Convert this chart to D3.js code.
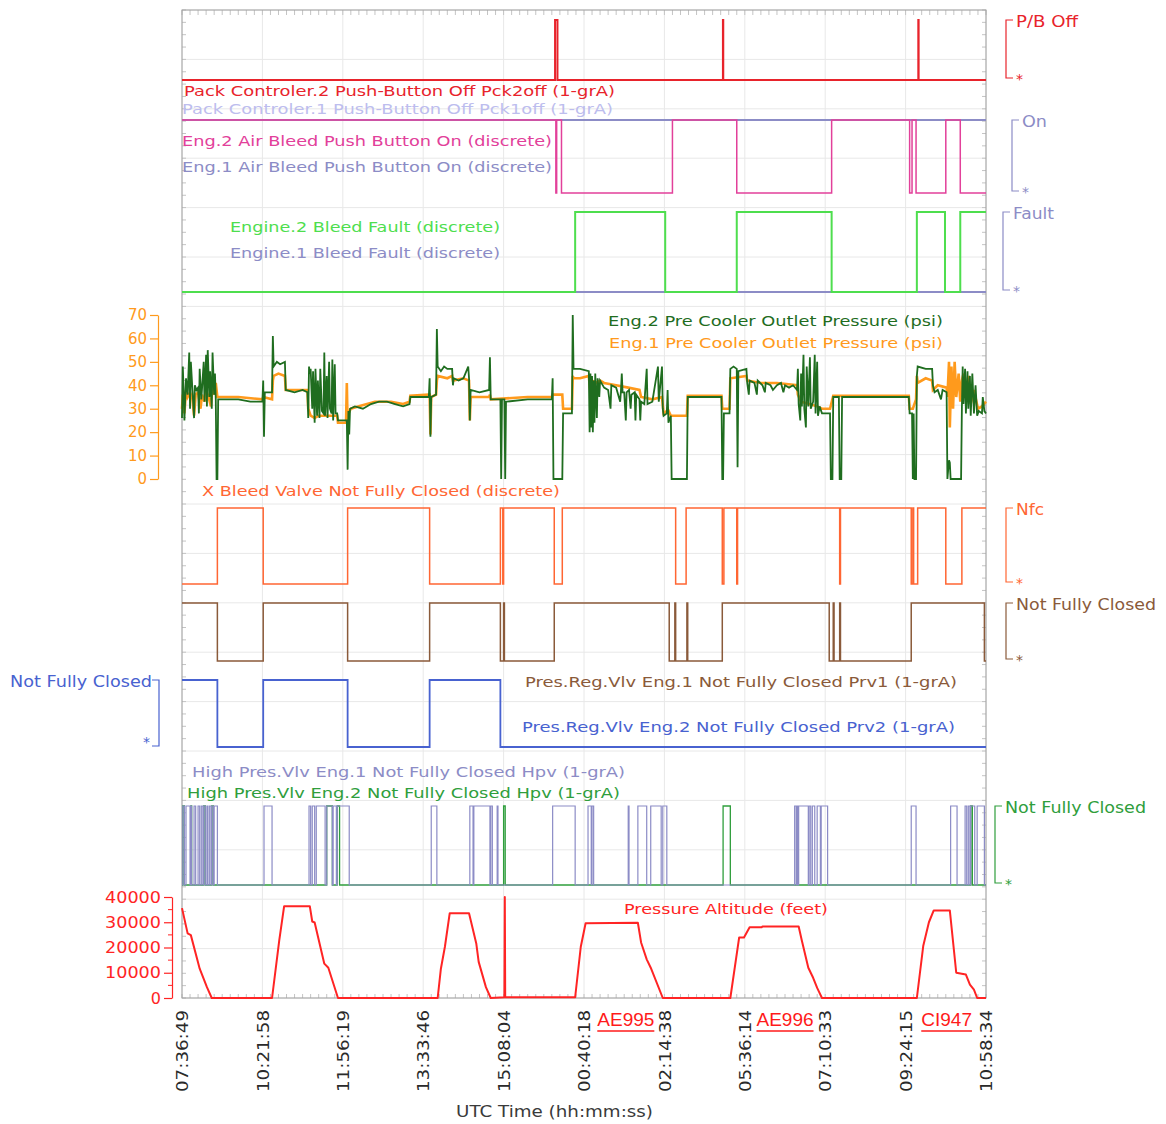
<!DOCTYPE html>
<html>
<head>
<meta charset="utf-8">
<title>Bleed air parameters</title>
<script src="https://cdn.jsdelivr.net/npm/d3@7"></script>
<style>
    body { margin: 0; background: #fff; overflow: hidden; }
    svg text { font-family: 'DejaVu Sans', Verdana, sans-serif; }
</style>
</head>
<body>
<svg id="chart" width="1166" height="1124"></svg>
<script>
// ---- data (x in sample index 0..1000, one tick every 100 samples) ----
var timeLabels = ["07:36:49", "10:21:58", "11:56:19", "13:33:46", "15:08:04", "00:40:18",
                  "02:14:38", "05:36:14", "07:10:33", "09:24:15", "10:58:34"];

// discrete signals: intervals where the signal is "high"
var pck2Off = [[464, 467], [672.8, 673.2], [915.8, 916.2]];
var pck1Off = [];
var airBleed1 = [[0, 1000]];
var airBleed2 = [[0, 465], [466, 472], [610, 690], [808, 905], [908, 913], [950, 968]];
var bleedFault1 = [];
var bleedFault2 = [[489, 601], [690, 808], [914, 949], [968, 1000]];
var xBleedNfc = [[44, 101], [206, 308], [396, 399], [400, 463], [473, 614], [627, 672], [674, 690],
                 [691, 818], [819, 907], [909, 910], [915, 950], [970, 1000]];
var prv1 = [[0, 44], [101, 206], [308, 396], [400, 401], [463, 606], [613, 614], [628, 629],
            [672, 805], [810, 811], [818, 819], [907, 998]];
var prv2 = [[0, 44], [101, 206], [308, 396]];
var hpv1 = [[1, 3], [5, 10], [11, 12], [15, 17], [20, 22], [24, 26], [27, 29], [31, 32], [34, 36],
            [37, 39], [40, 44], [102, 112], [158, 160], [162, 165], [167, 178], [180, 187], [188, 192],
            [193, 208], [310, 317], [358, 362], [363, 383], [384, 386], [392, 393], [461, 489],
            [505, 509], [510, 512], [555, 556], [567, 578], [583, 596], [598, 603], [762, 764],
            [765, 766], [767, 779], [780, 782], [784, 787], [790, 794], [795, 803], [907, 913],
            [956, 964], [974, 976], [978, 980], [981, 986], [989, 998]];
var hpv2 = [[1, 3], [11, 12], [27, 29], [37, 39], [180, 187], [193, 196], [400, 402], [673, 682],
            [981, 983]];

// pre cooler outlet pressure (psi)
var eng2Pressure = [[0,26],[1,48],[2,38],[3,25],[5,43],[7,36],[9,54],[10,30],[11,50],[13,38],[15,26],[16,40],
    [18,38],[20,39],[21,28],[22,47],[24,34],[25,39],[27,50],[28,33],[30,53],[31,31],[32,55],[34,35],[35,46],
    [37,30],[38,54],[40,36],[41,45],[42,34],[43,0],[44,0],[45,34],[70,34],[85,33],[100,33],
    [101,42],[102,18],[103,37],[112,37],[113,61],[114,48],[118,50],[122,49],[128,50],[129,38],[140,37],
    [150,38],[156,37],[157,26],[158,48],[159,45],[160,47],[162,30],[163,46],[165,24],[166,47],[168,27],
    [169,42],[171,26],[172,47],[174,29],[176,28],[177,54],[178,27],[180,44],[181,26],[183,50],[184,30],
    [186,28],[187,51],[188,25],[190,49],[191,28],[193,28],[194,25],[205,25],[206,4],[207,29],[208,19],
    [209,30],[215,31],[225,30],[235,32],[245,33],[255,33],[265,32],[275,31],[283,32],[284,35],[307,35],
    [308,43],[309,18],[310,35],[316,36],[317,64],[318,48],[322,46],[326,48],[330,47],[336,47],[337,40],
    [338,43],[344,42],[350,43],[356,48],[357,43],[358,25],[359,38],[370,37],[382,38],[383,52],[384,34],
    [396,34],[397,0],[398,34],[401,34],[402,0],[403,33],[430,34],[460,34],[461,43],[462,0],[473,0],
    [474,28],[485,28],[486,70],[487,47],[495,47],[506,46],[507,20],[508,45],[509,22],[510,44],[511,20],
    [512,42],[513,24],[514,45],[516,26],[517,43],[519,35],[520,42],[525,39],[530,38],[533,30],[534,40],
    [540,39],[545,33],[546,38],[547,45],[548,37],[550,37],[552,25],[553,37],[556,38],[558,30],[559,36],
    [563,37],[564,25],[565,36],[569,34],[570,25],[571,33],[575,32],[578,47],[579,32],[585,33],[592,48],
    [593,33],[597,48],[598,30],[599,27],[603,28],[604,38],[605,24],[608,27],[609,0],[628,0],[629,35],
    [650,35],[671,35],[672,0],[673,0],[674,28],[681,28],[682,47],[686,48],[690,47],[691,5],[692,46],
    [702,47],[703,41],[705,36],[706,42],[712,41],[715,36],[716,42],[722,40],[725,37],[726,41],[732,40],
    [735,38],[740,40],[745,41],[748,37],[750,40],[755,39],[760,40],[765,38],[766,47],[767,32],[769,25],
    [770,45],[771,31],[773,53],[774,30],[776,22],[777,48],[779,31],[781,52],[782,30],[785,33],[787,53],
    [788,28],[790,50],[791,27],[793,31],[796,28],[806,28],[807,0],[809,0],[810,35],[817,35],[818,0],
    [820,0],[821,35],[904,35],[905,28],[908,28],[909,0],[910,28],[911,0],[913,0],[914,44],[915,48],
    [925,47],[933,47],[934,40],[936,37],[940,38],[944,34],[946,38],[951,37],[952,0],[954,8],[955,7],
    [956,0],[969,0],[970,30],[971,48],[972,32],[974,47],[975,28],[977,46],[978,30],[980,44],[981,27],
    [983,45],[985,28],[987,40],[989,27],[991,29],[995,28],[996,35],[998,29],[1000,28]];
var eng1Pressure = [[0,30],[1,36],[3,28],[5,38],[7,35],[10,37],[13,34],[15,27],[17,36],[20,37],[23,30],
    [25,36],[28,33],[30,38],[33,35],[36,31],[38,40],[40,36],[42,41],[44,35],[70,35],[100,34],[101,35],
    [112,34],[113,42],[114,44],[120,45],[128,44],[129,38],[156,38],[157,30],[160,27],[165,26],[170,27],
    [180,27],[188,27],[193,27],[194,24],[204,24],[205,41],[206,23],[207,28],[210,30],[220,31],[240,33],
    [260,33],[275,32],[283,33],[284,35.5],[307,36],[308,36],[309,19],[310,35],[316,36],[317,42],[318,44],
    [330,43],[336,44],[337,42],[350,43],[357,42],[358,25],[359,35],[382,35],[383,36],[384,34],[430,35],
    [460,35],[461,36],[473,36],[474,30],[485,30],[486,44],[487,43],[495,43],[506,44],[507,40],[510,42],
    [515,41],[520,42],[525,41],[540,40],[555,39],[569,38],[571,35],[585,34],[597,35],[599,28],[603,29],
    [604,30],[608,27],[609,27],[628,27],[629,35.5],[671,35.5],[672,30],[681,30],[682,43],[702,44],[703,42],
    [720,41],[740,41],[765,40],[766,36],[770,33],[780,32],[790,31],[796,30],[806,30],[810,35.5],
    [904,35.5],[905,30],[909,30],[913,34],[914,44],[915,41],[925,43],[933,42],[934,38],[940,40],[951,39],
    [952,35],[954,50],[955,22],[957,48],[959,30],[961,50],[963,35],[966,45],[968,33],[970,42],[972,45],
    [975,35],[978,44],[981,32],[985,38],[990,30],[995,31],[1000,33]];

// pressure altitude (feet)
var altitude = [[0,35600],[7,25600],[11,24900],[22,11600],[31,4300],[37,0],[112,0],[121,22900],
    [127,36300],[159,36300],[162,30300],[165,29900],[177,13600],[182,12000],[194,0],[318,0],[322,11600],
    [327,20300],[333,33600],[357,33600],[366,21600],[369,14300],[378,4300],[384,0],[401,300],[401.5,40000],
    [402,300],[489,300],[496,20300],[502,29600],[567,29800],[571,22000],[578,15300],[583,12000],[598,0],
    [682,0],[693,24000],[699,24000],[706,28000],[721,28000],[722,28300],[767,28300],[771,22700],
    [779,12000],[785,8000],[790,4000],[796,0],[914,0],[922,20700],[929,30000],[935,34700],[955,34700],
    [963,10000],[975,9300],[980,5300],[985,3300],[989,0],[1000,0]];

var flightNames = ["AE995", "AE996", "CI947"];
var flightCentres = [552, 750, 951];

var pressureTicks = [0, 10, 20, 30, 40, 50, 60, 70];
var altitudeTicks = [0, 10000, 20000, 30000, 40000];

// ---- layout ----
var svg = d3.select("#chart");
var frameTop = 10, frameBottom = 998, frameLeft = 182, frameRight = 986;
var x = d3.scaleLinear().domain([0, 1000]).range([frameLeft, frameRight]);

var C = {
    red: "#e8232b", pck1: "#bdbdee", pink: "#e2409a", lav: "#8c8cc6", green: "#4ede4e",
    dkgreen: "#1f6d1f", orange: "#ff9a1c", nfc: "#ff6633", brown: "#8a5a3a", blue: "#4862d0",
    hpvGreen: "#2f9e3c", alt: "#ff2424", axis: "#333"
};

var panels = {
    pack:  { hi: 20,  lo: 80 },
    pb:    { hi: 120, lo: 193 },
    fault: { hi: 212, lo: 292 },
    nfc:   { hi: 508, lo: 584 },
    prv1:  { hi: 603, lo: 661 },
    prv2:  { hi: 680, lo: 747 },
    hpv:   { hi: 806, lo: 885 }
};

// grid
var grid = svg.append("g").attr("stroke", "#e8e8e8").attr("stroke-width", 1);
grid.selectAll("line.v").data(d3.range(0, 1001, 100)).join("line").attr("class", "v")
    .attr("x1", d => x(d)).attr("x2", d => x(d)).attr("y1", frameTop).attr("y2", frameBottom);
grid.selectAll("line.h").data(d3.range(21)).join("line").attr("class", "h")
    .attr("x1", frameLeft).attr("x2", frameRight)
    .attr("y1", d => frameTop + d * (frameBottom - frameTop) / 20)
    .attr("y2", d => frameTop + d * (frameBottom - frameTop) / 20);

// minor ticks on the frame
var minor = svg.append("g").attr("stroke", "#c4c4c4").attr("stroke-width", 1);
minor.selectAll("line.t").data(d3.range(0, 1001, 10)).join("line").attr("class", "t")
    .attr("x1", d => x(d)).attr("x2", d => x(d)).attr("y1", frameTop).attr("y2", frameTop + 5);
minor.selectAll("line.b").data(d3.range(0, 1001, 10)).join("line").attr("class", "b")
    .attr("x1", d => x(d)).attr("x2", d => x(d)).attr("y1", frameBottom - 4).attr("y2", frameBottom);
minor.selectAll("line.l").data(d3.range(0, 81)).join("line").attr("class", "l")
    .attr("x1", frameLeft).attr("x2", frameLeft + 4)
    .attr("y1", d => frameTop + d * (frameBottom - frameTop) / 80)
    .attr("y2", d => frameTop + d * (frameBottom - frameTop) / 80);
minor.selectAll("line.r").data(d3.range(0, 81)).join("line").attr("class", "r")
    .attr("x1", frameRight - 4).attr("x2", frameRight)
    .attr("y1", d => frameTop + d * (frameBottom - frameTop) / 80)
    .attr("y2", d => frameTop + d * (frameBottom - frameTop) / 80);

svg.append("rect").attr("x", frameLeft).attr("y", frameTop)
    .attr("width", frameRight - frameLeft).attr("height", frameBottom - frameTop)
    .attr("fill", "none").attr("stroke", "#a0a0a0").attr("stroke-width", 1);

// ---- helpers ----
function toSteps(intervals) {
    var pts = [];
    var startsHigh = intervals.length > 0 && intervals[0][0] <= 0;
    pts.push([0, startsHigh ? 1 : 0]);
    intervals.forEach(function (iv) {
        if (iv[0] > 0) pts.push([iv[0], 0], [iv[0], 1]);
        if (iv[1] < 1000) pts.push([iv[1], 1], [iv[1], 0]);
    });
    pts.push([1000, pts[pts.length - 1][1]]);
    return pts;
}

function drawDiscrete(intervals, panel, color, w) {
    var y = d3.scaleLinear().domain([0, 1]).range([panel.lo, panel.hi]);
    svg.append("path").datum(toSteps(intervals))
        .attr("fill", "none").attr("stroke", color).attr("stroke-width", w)
        .attr("stroke-linejoin", "miter")
        .attr("d", d3.line().x(d => x(d[0])).y(d => y(d[1])));
}

function label(str, px, py, color, size, width, anchor) {
    var t = svg.append("text").attr("x", px).attr("y", py).attr("dy", "0.36em")
        .attr("fill", color).style("font-size", size + "px")
        .attr("text-anchor", anchor || "start").text(str);
    if (width) t.attr("textLength", width).attr("lengthAdjust", "spacingAndGlyphs");
    return t;
}

function bracketRight(bx, panel, color, text, width) {
    svg.append("path").attr("d", "M" + (bx + 7) + "," + panel.hi + "H" + bx + "V" + (panel.lo - 2) + "H" + (bx + 7))
        .attr("fill", "none").attr("stroke", color).attr("stroke-width", 1.2);
    label(text, bx + 10, panel.hi + 1, color, 15.5, width);
    label("*", bx + 10, panel.lo - 1, color, 14);
}

// ---- discrete series ----
drawDiscrete(pck1Off, panels.pack, C.pck1, 1.5);
drawDiscrete(pck2Off, panels.pack, C.red, 2);
drawDiscrete(airBleed1, panels.pb, C.lav, 1.8);
drawDiscrete(airBleed2, panels.pb, C.pink, 1.5);
drawDiscrete(bleedFault1, panels.fault, C.lav, 1.8);
drawDiscrete(bleedFault2, panels.fault, C.green, 2);
drawDiscrete(xBleedNfc, panels.nfc, C.nfc, 1.5);
drawDiscrete(prv1, panels.prv1, C.brown, 1.5);
drawDiscrete(prv2, panels.prv2, C.blue, 1.8);
drawDiscrete(hpv2, panels.hpv, C.hpvGreen, 1.3);
drawDiscrete(hpv1, panels.hpv, C.lav, 1.2);

// ---- pressure panel ----
var yP = d3.scaleLinear().domain([0, 70]).range([479, 315]);
var pLine = d3.line().x(d => x(d[0])).y(d => yP(d[1]));
svg.append("path").datum(eng1Pressure).attr("fill", "none").attr("stroke", C.orange)
    .attr("stroke-width", 2.6).attr("d", pLine);
svg.append("path").datum(eng2Pressure).attr("fill", "none").attr("stroke", C.dkgreen)
    .attr("stroke-width", 1.8).attr("d", pLine);

var pAxis = svg.append("g").attr("transform", "translate(158,0)")
    .call(d3.axisLeft(yP).tickValues(pressureTicks).tickSize(8).tickSizeOuter(0).tickPadding(3));
pAxis.selectAll("path, line").attr("stroke", C.orange).attr("stroke-width", 1.2);
pAxis.selectAll("text").attr("fill", C.orange).style("font-size", "15px")
    .style("font-family", "'DejaVu Sans', sans-serif");

// ---- altitude panel ----
var yA = d3.scaleLinear().domain([0, 40000]).range([998, 897]);
svg.append("path").datum(altitude).attr("fill", "none").attr("stroke", C.alt)
    .attr("stroke-width", 2).attr("stroke-linejoin", "round")
    .attr("d", d3.line().x(d => x(d[0])).y(d => yA(d[1])));

var aAxis = svg.append("g").attr("transform", "translate(172,0)")
    .call(d3.axisLeft(yA).tickValues(altitudeTicks).tickSize(8).tickSizeOuter(0).tickPadding(3)
        .tickFormat(d3.format("d")));
aAxis.selectAll("path, line").attr("stroke", C.alt).attr("stroke-width", 1.2);
aAxis.selectAll("text").attr("fill", C.alt).style("font-size", "16px")
    .style("font-family", "'DejaVu Sans', sans-serif").attr("textLength", 56)
    .attr("lengthAdjust", "spacingAndGlyphs");
aAxis.selectAll("text").filter(d => d === 0).attr("textLength", null);
svg.append("g").attr("stroke", C.alt).selectAll("line").data([5000, 15000, 25000, 35000]).join("line")
    .attr("x1", 168).attr("x2", 172).attr("y1", d => yA(d)).attr("y2", d => yA(d));

// ---- x axis ----
var xAxis = svg.append("g").attr("transform", "translate(0," + frameBottom + ")")
    .call(d3.axisBottom(x).tickValues(d3.range(0, 1001, 100)).tickSize(0)
        .tickFormat((d, i) => timeLabels[i]));
xAxis.select(".domain").remove();
xAxis.selectAll("text").attr("transform", "rotate(-90)").attr("x", -12).attr("y", 0)
    .attr("dy", "0.36em").style("text-anchor", "end").attr("fill", "#2a2a2a")
    .style("font-size", "16px").style("font-family", "'DejaVu Sans', sans-serif")
    .attr("textLength", 82).attr("lengthAdjust", "spacingAndGlyphs");

label("UTC Time (hh:mm:ss)", 456, 1112, "#3a3a3a", 15, 197);

// flight annotations
flightNames.forEach(function (name, i) {
    var t = svg.append("text").attr("x", x(flightCentres[i])).attr("y", 1019).attr("dy", "0.36em")
        .attr("text-anchor", "middle").attr("fill", "#ff1a1a")
        .style("font-family", "'Liberation Sans', Arial, sans-serif").style("font-size", "19px").text(name);
    var w = t.node().getComputedTextLength();
    svg.append("line").attr("x1", x(flightCentres[i]) - w / 2).attr("x2", x(flightCentres[i]) + w / 2)
        .attr("y1", 1031).attr("y2", 1031).attr("stroke", "#ff1a1a").attr("stroke-width", 1.5);
});

// ---- in-plot labels ----
label("Pack Controler.2 Push-Button Off Pck2off (1-grA)", 184, 91, C.red, 14.5, 431);
label("Pack Controler.1 Push-Button Off Pck1off (1-grA)", 182, 109, C.pck1, 14.5, 431);
label("Eng.2 Air Bleed Push Button On (discrete)", 182, 141, C.pink, 14.5, 370);
label("Eng.1 Air Bleed Push Button On (discrete)", 182, 167, C.lav, 14.5, 370);
label("Engine.2 Bleed Fault (discrete)", 230, 227, C.green, 14.5, 270);
label("Engine.1 Bleed Fault (discrete)", 230, 253, C.lav, 14.5, 270);
label("Eng.2 Pre Cooler Outlet Pressure (psi)", 943, 321, C.dkgreen, 14.5, 335, "end");
label("Eng.1 Pre Cooler Outlet Pressure (psi)", 943, 343, C.orange, 14.5, 334, "end");
label("X Bleed Valve Not Fully Closed (discrete)", 202, 491, C.nfc, 14.5, 358);
label("Pres.Reg.Vlv Eng.1 Not Fully Closed Prv1 (1-grA)", 957, 682, C.brown, 14.5, 432, "end");
label("Pres.Reg.Vlv Eng.2 Not Fully Closed Prv2 (1-grA)", 955, 727, C.blue, 14.5, 433, "end");
label("High Pres.Vlv Eng.1 Not Fully Closed Hpv (1-grA)", 192, 772, C.lav, 14.5, 433);
label("High Pres.Vlv Eng.2 Not Fully Closed Hpv (1-grA)", 187, 793, C.hpvGreen, 14.5, 433);
label("Pressure Altitude (feet)", 624, 909, C.alt, 14.5, 204);

// ---- state brackets ----
bracketRight(1006, panels.pack, C.red, "P/B Off", 62);
bracketRight(1012, { hi: 120, lo: 193 }, C.lav, "On", 25);
bracketRight(1003, { hi: 212, lo: 292 }, C.lav, "Fault", 41);
bracketRight(1006, panels.nfc, C.nfc, "Nfc", 28);
bracketRight(1006, panels.prv1, C.brown, "Not Fully Closed", 140);
bracketRight(995, panels.hpv, C.hpvGreen, "Not Fully Closed", 141);

// left bracket for PRV2
svg.append("path").attr("d", "M152,680H159V746H152").attr("fill", "none")
    .attr("stroke", C.blue).attr("stroke-width", 1.2);
label("Not Fully Closed", 152, 682, C.blue, 15, 142, "end");
label("*", 150, 742, C.blue, 14, null, "end");
</script>
</body>
</html>
